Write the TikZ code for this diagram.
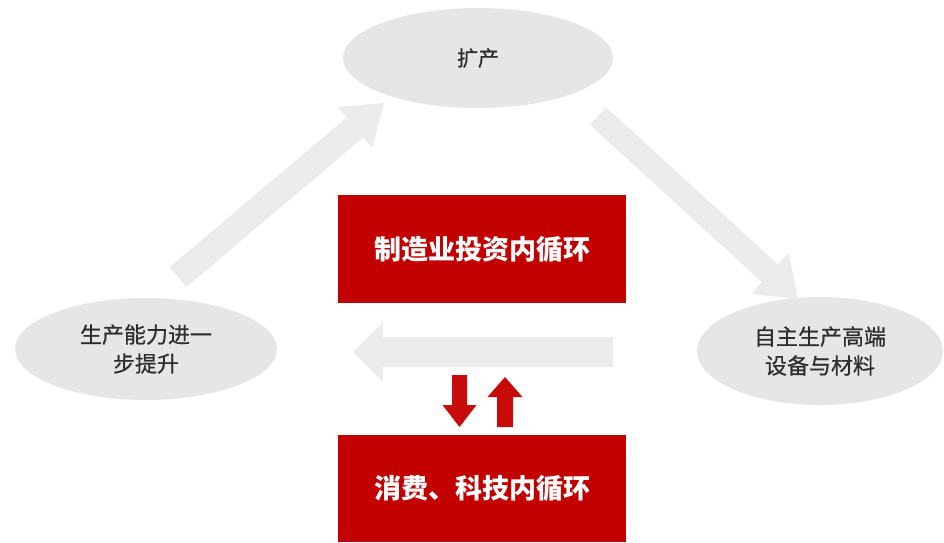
\documentclass[tikz,border=0pt]{standalone}
\usepackage{fontspec}
\newfontfamily\cjk{Noto Sans CJK SC}
\newfontfamily\cjkm{Noto Sans CJK SC}[FakeBold=0.7]
\usetikzlibrary{shapes.geometric,calc}
\definecolor{boxred}{HTML}{C20000}
\definecolor{arrred}{HTML}{C80A0A}
\definecolor{ellgray}{HTML}{E6E6E6}
\definecolor{arrgray}{HTML}{ECECEC}
\definecolor{txtgray}{HTML}{2E2E2E}
\tikzset{
  oval/.style={ellipse, fill=ellgray, draw=none, inner sep=0pt, text=txtgray, align=center,
    font=\cjkm\fontsize{22pt}{29pt}\selectfont},
  redbox/.style={rectangle, fill=boxred, draw=none, inner sep=0pt, text=white,
    font=\cjk\bfseries\fontsize{27pt}{32pt}\selectfont},
  grayfill/.style={fill=arrgray, draw=none},
  redfill/.style={fill=arrred, draw=none}
}
\newcommand\fatarrow[6]{% #1 style, #2 tail, #3 tip, #4 shaft half width, #5 head half width, #6 head length
  \coordinate (fa-b) at ($(#3)!#6!(#2)$);
  \fill[#1] ($(#2)!#4!90:(#3)$) -- ($(fa-b)!#4!-90:(#2)$) -- ($(fa-b)!#5!-90:(#2)$) -- (#3)
    -- ($(fa-b)!#5!90:(#2)$) -- ($(fa-b)!#4!90:(#2)$) -- ($(#2)!#4!-90:(#3)$) -- cycle;}
\begin{document}
\begin{tikzpicture}[x=1pt,y=-1pt]
\useasboundingbox (0,0) rectangle (944,542);
% gray connector arrows
\coordinate (g1t) at (178,277); \coordinate (g1h) at (384,103);
\coordinate (g2t) at (598,116); \coordinate (g2h) at (798,299);
\coordinate (g3t) at (613,352); \coordinate (g3h) at (353,352);
\fatarrow{grayfill}{g1t}{g1h}{13pt}{27pt}{38pt}
\fatarrow{grayfill}{g2t}{g2h}{12pt}{28pt}{38pt}
\fatarrow{grayfill}{g3t}{g3h}{15pt}{30pt}{30pt}
% ellipses
\node[oval, minimum width=270pt, minimum height=100pt] (top) at (478,58) {\raisebox{-9pt}{\fontsize{21pt}{29pt}\selectfont 扩产}};
\node[oval, minimum width=262pt, minimum height=102pt] (left) at (146,349) {\raisebox{-7pt}{\parbox{150pt}{\centering 生产能力进一\\步提升}}};
\node[oval, minimum width=246pt, minimum height=108pt] (right) at (820,351) {\raisebox{-1pt}{\parbox{150pt}{\centering 自主生产高端\\设备与材料}}};
% red boxes
\node[redbox, minimum width=288pt, minimum height=108pt] (mfg) at (482,249) {制造业投资内循环};
\fill[boxred] (338,435) rectangle (626,542);
\node[text=white, font=\cjk\bfseries\fontsize{27pt}{32pt}\selectfont, inner sep=0pt] (cons) at (482,488) {消费、科技内循环};
% red double arrows
\coordinate (rdt) at (459.5,375); \coordinate (rdh) at (459.5,427);
\coordinate (rut) at (505,427); \coordinate (ruh) at (505,377);
\fatarrow{redfill}{rdt}{rdh}{7.5pt}{17pt}{22pt}
\fatarrow{redfill}{rut}{ruh}{8pt}{17.5pt}{20pt}
\end{tikzpicture}
\end{document}
